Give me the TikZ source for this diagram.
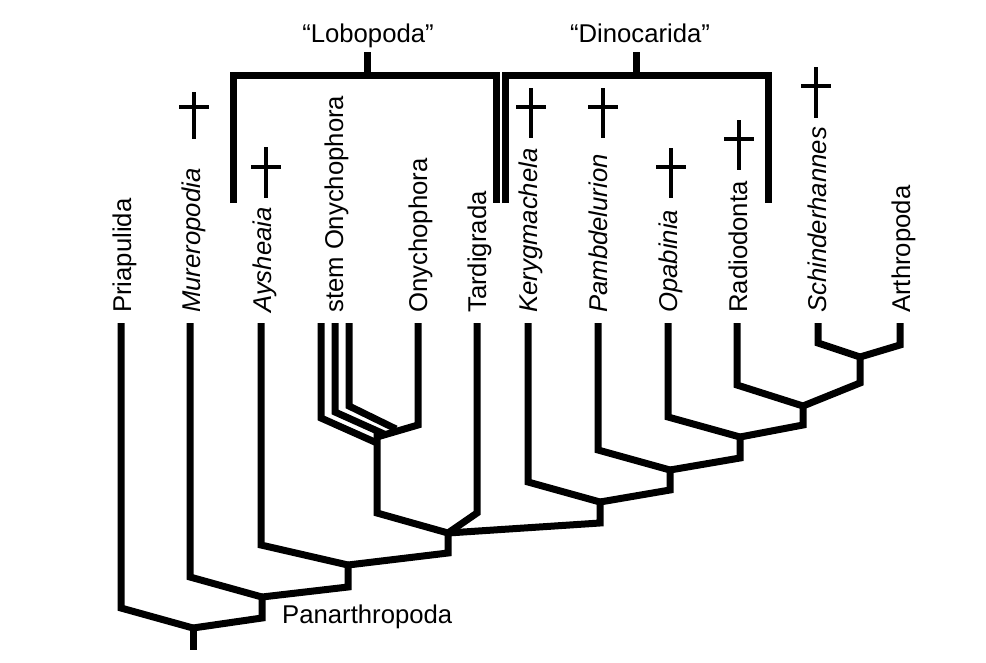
\documentclass[tikz,border=0pt]{standalone}
\usepackage{fontspec}
\setmainfont{Liberation Sans}
\begin{document}
\begin{tikzpicture}[x=1pt,y=-1pt,
  br/.style={line width=7pt},
  brk/.style={line width=7pt},
  dag/.style={line width=4.5pt},
  lab/.style={rotate=90,anchor=base west,inner sep=0pt,font=\fontsize{25.7}{30}\selectfont},
  ilab/.style={lab,font=\fontsize{25.7}{30}\selectfont\itshape},
  hlab/.style={inner sep=0pt,font=\fontsize{25.7}{30}\selectfont}]
\useasboundingbox (0,0) rectangle (986,662);

% ---------- labels ----------
\node[lab]  (lPri) at (131,313) {Priapulida};
\node[ilab] (lMur) at (200,313) {Mureropodia};
\node[ilab] (lAys) at (271,313) {Aysheaia};
\node[lab]  (lSto) at (343,313) {stem Onychophora};
\node[lab]  (lOny) at (427,313) {Onychophora};
\node[lab]  (lTar) at (486,313) {Tardigrada};
\node[ilab] (lKer) at (537,313) {Kerygmachela};
\node[ilab] (lPam) at (607,313) {Pambdelurion};
\node[ilab] (lOpa) at (677,313) {Opabinia};
\node[lab]  (lRad) at (747,313) {Radiodonta};
\node[ilab] (lSch) at (826,313) {Schinderhannes};
\node[lab]  (lArt) at (910,313) {Arthropoda};
\node[hlab,anchor=base] (lLob) at (368,42) {“Lobopoda”};
\node[hlab,anchor=base] (lDin) at (640,42) {“Dinocarida”};
\node[hlab,anchor=base west] (lPan) at (282,623) {Panarthropoda};

% ---------- coordinates ----------
\coordinate (tPri) at (121,323); \coordinate (bPri) at (121,608);
\coordinate (tMur) at (190,323); \coordinate (bMur) at (190,577);
\coordinate (tAys) at (261,323); \coordinate (bAys) at (261,545);
\coordinate (tS1) at (321,323); \coordinate (bS1) at (321,418); \coordinate (eS1) at (377,443);
\coordinate (tS2) at (335,323); \coordinate (bS2) at (335,412); \coordinate (eS2) at (384,434);
\coordinate (tS3) at (349,323); \coordinate (bS3) at (349,406); \coordinate (eS3) at (396,429);
\coordinate (tOny) at (418,323); \coordinate (bOny) at (418,425);
\coordinate (tTar) at (477,323); \coordinate (bTar) at (477,513);
\coordinate (tKer) at (528,323); \coordinate (bKer) at (528,482);
\coordinate (tPam) at (598,323); \coordinate (bPam) at (598,450);
\coordinate (tOpa) at (668,323); \coordinate (bOpa) at (668,417);
\coordinate (tRad) at (737,323); \coordinate (bRad) at (737,385);
\coordinate (tSch) at (818,323); \coordinate (bSch) at (818,343);
\coordinate (tArt) at (900,323); \coordinate (bArt) at (900,345);

\coordinate (nRoot) at (193,628); \coordinate (nRootB) at (193,650);
\coordinate (nPan) at (262,597);  \coordinate (nPanB) at (262,618);
\coordinate (nA) at (348,565);    \coordinate (nAB) at (348,587);
\coordinate (nB) at (448,533);    \coordinate (nBB) at (448,553);
\coordinate (nOny) at (377,433);  \coordinate (nOnyJ) at (377,437); \coordinate (nOnyB) at (377,513);
\coordinate (nC) at (600,502);    \coordinate (nCB) at (600,523);
\coordinate (nD) at (670,470);    \coordinate (nDB) at (670,490);
\coordinate (nE) at (740,437);    \coordinate (nEB) at (740,458);
\coordinate (nF) at (803,406);    \coordinate (nFB) at (803,425);
\coordinate (nG) at (860,357);    \coordinate (nGB) at (860,383);

% ---------- tree ----------
\draw[br] (nRoot) -- (nRootB);
\draw[br] (tPri) -- (bPri) -- (nRoot);
\draw[br] (nPan) -- (nPanB) -- (nRoot);
\draw[br] (tMur) -- (bMur) -- (nPan);
\draw[br] (nA) -- (nAB) -- (nPan);
\draw[br] (tAys) -- (bAys) -- (nA);
\draw[br] (nB) -- (nBB) -- (nA);
\draw[br] (tS1) -- (bS1) -- (eS1);
\draw[br] (tS2) -- (bS2) -- (eS2);
\draw[br] (tS3) -- (bS3) -- (eS3);
\draw[br] (tOny) -- (bOny) -- (nOnyJ);
\draw[br] (nOny) -- (nOnyB) -- (nB);
\draw[br] (tTar) -- (bTar) -- (nB);
\draw[br] (nC) -- (nCB) -- (nB);
\draw[br] (tKer) -- (bKer) -- (nC);
\draw[br] (nD) -- (nDB) -- (nC);
\draw[br] (tPam) -- (bPam) -- (nD);
\draw[br] (nE) -- (nEB) -- (nD);
\draw[br] (tOpa) -- (bOpa) -- (nE);
\draw[br] (nF) -- (nFB) -- (nE);
\draw[br] (tRad) -- (bRad) -- (nF);
\draw[br] (nG) -- (nGB) -- (nF);
\draw[br] (tSch) -- (bSch) -- (nG);
\draw[br] (tArt) -- (bArt) -- (nG);

% ---------- brackets ----------
\coordinate (lobL) at (233.5,203); \coordinate (lobR) at (496,203);
\coordinate (lobT) at (367,52);
\draw[brk] (lobL) |- (lobR |- 0,75.5) -- (lobR);
\draw[brk] (lobT) -- (lobT |- 0,75.5);
\coordinate (dinL) at (505.5,203); \coordinate (dinR) at (768,203);
\coordinate (dinT) at (636,52);
\draw[brk] (dinL) |- (dinR |- 0,75.5) -- (dinR);
\draw[brk] (dinT) -- (dinT |- 0,75.5);

% ---------- daggers ----------
\draw[dag] (194,92) -- (194,139) (179,107) -- (209,107);
\draw[dag] (266,147) -- (266,198) (251,167) -- (281,167);
\draw[dag] (531,88) -- (531,138) (516,107) -- (546,107);
\draw[dag] (603,88) -- (603,138) (588,107) -- (618,107);
\draw[dag] (671,148) -- (671,198) (656,167) -- (686,167);
\draw[dag] (739,120) -- (739,170) (724,139) -- (754,139);
\draw[dag] (816,67) -- (816,118) (801,86) -- (831,86);
\end{tikzpicture}
\end{document}
